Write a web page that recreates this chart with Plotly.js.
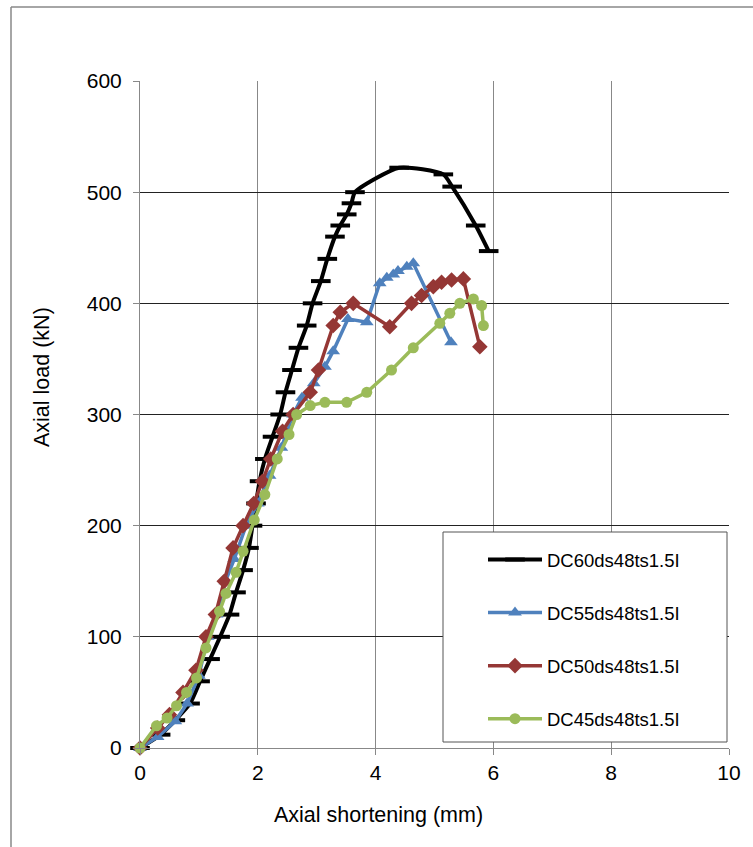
<!DOCTYPE html>
<html><head><meta charset="utf-8">
<script src="https://cdn.plot.ly/plotly-3.0.1.min.js"></script>
<style>html,body{margin:0;padding:0;background:#fff}#chart{width:753px;height:847px}</style>
</head><body><div id="chart"></div>
<script>
const seriesNames = ["DC60ds48ts1.5I","DC55ds48ts1.5I","DC50ds48ts1.5I","DC45ds48ts1.5I"];
const blackX = [0,0.35,0.6,0.85,1.02,1.19,1.36,1.52,1.63,1.75,1.85,1.91,1.97,2.03,2.12,2.25,2.38,2.47,2.58,2.69,2.83,2.93,3.07,3.18,3.31,3.40,3.51,3.59,3.65,4.4,5.15,5.3,5.7,5.92];
const blackY = [0,12,25,40,60,80,100,120,140,160,180,200,220,240,260,280,300,320,340,360,380,400,420,440,460,470,480,490,500,522,516,505,470,447];
const blueX = [0,0.3,0.6,0.8,1.0,1.15,1.3,1.45,1.6,1.8,2.0,2.2,2.4,2.6,2.75,2.95,3.14,3.28,3.53,3.85,4.07,4.19,4.30,4.38,4.53,4.64,5.28];
const blueY = [0,10,24,40,65,100,120,150,170,200,220,245,270,300,315,328,343,357,386,383,418,423,426,429,433,436,365];
const redX = [0,0.3,0.5,0.73,0.95,1.12,1.28,1.43,1.58,1.75,1.93,2.08,2.22,2.42,2.6,2.89,3.03,3.28,3.40,3.62,4.24,4.61,4.78,4.98,5.12,5.29,5.49,5.77];
const redY = [0,18,30,50,70,100,120,150,180,200,220,240,260,285,300,320,340,380,392,400,379,400,407,415,419,421,422,361];
const greenX = [0,0.28,0.46,0.62,0.79,0.96,1.12,1.35,1.46,1.63,1.75,1.94,2.12,2.33,2.53,2.66,2.89,3.14,3.51,3.85,4.27,4.64,5.09,5.26,5.43,5.66,5.80,5.83];
const greenY = [0,20,27,38,50,63,90,123,139,158,177,205,228,260,282,300,308,311,311,320,340,360,382,391,400,404,398,380];
const xTicks = [0,2,4,6,8,10];
const yTicks = [0,100,200,300,400,500,600];
const xTitle = "Axial shortening (mm)";
const yTitle = "Axial load (kN)";

const FONT = "Liberation Sans, Arial, sans-serif";
const traces = [
  {x: blackX, y: blackY, name: seriesNames[0], legendgroup: "a", mode: "lines+markers",
   line: {color: "#000000", width: 4, shape: "spline", smoothing: 0.6},
   marker: {symbol: "line-ew", size: 14, color: "#000", line: {color: "#000", width: 4}}},
  {x: blueX, y: blueY, name: seriesNames[1], legendgroup: "b", mode: "lines+markers",
   line: {color: "#4F81BD", width: 3.5},
   marker: {symbol: "triangle-up", size: 12, color: "#4F81BD"}},
  {x: redX, y: redY, name: seriesNames[2], legendgroup: "c", mode: "lines+markers",
   line: {color: "#953735", width: 3.5},
   marker: {symbol: "diamond", size: 12, color: "#953735"}},
  {x: greenX, y: greenY, name: seriesNames[3], legendgroup: "d", mode: "lines+markers",
   line: {color: "#9BBB59", width: 3.5},
   marker: {symbol: "circle", size: 11, color: "#9BBB59"}}
].map(t => Object.assign(t, {cliponaxis: false}));

const L = 140, R = 729, T = 81, B = 748, W = 753, H = 847;
const px = v => (v - L) / (R - L);
const py = v => (B - v) / (B - T);

const layout = {
  width: W, height: H,
  margin: {l: L, r: W - R, t: T, b: H - B},
  paper_bgcolor: "#fff", plot_bgcolor: "#fff",
  font: {family: FONT, size: 21, color: "#000"},
  showlegend: true,
  legend: {x: px(483), y: py(541), xanchor: "left", yanchor: "top",
    bgcolor: "rgba(0,0,0,0)", borderwidth: 0, tracegroupgap: 26, itemwidth: 54,
    font: {family: FONT, size: 18.5, color: "#000"}},
  xaxis: {range: [0, 10], tickvals: xTicks, ticktext: xTicks.map(String),
    showgrid: true, gridcolor: "#888", gridwidth: 1, zeroline: false,
    showline: true, linecolor: "#888", linewidth: 1, mirror: false,
    ticks: "outside", ticklen: 6, tickcolor: "#888",
    tickfont: {family: FONT, size: 21}, fixedrange: true},
  yaxis: {range: [0, 600], tickvals: yTicks, ticktext: yTicks.map(String),
    showgrid: true, gridcolor: "#222", gridwidth: 1, zeroline: false,
    showline: true, linecolor: "#888", linewidth: 1,
    ticks: "outside", ticklen: 6, tickcolor: "#888", ticklabelstandoff: 7,
    tickfont: {family: FONT, size: 21}, fixedrange: true},
  annotations: [
    {text: xTitle, xref: "paper", yref: "paper", x: px(378), y: py(815), xanchor: "center", yanchor: "middle",
     showarrow: false, font: {family: FONT, size: 21.5, color: "#000"}},
    {text: yTitle, xref: "paper", yref: "paper", x: px(42), y: py(377), xanchor: "center", yanchor: "middle",
     textangle: -90, showarrow: false, font: {family: FONT, size: 21.5, color: "#000"}}
  ],
  shapes: [
    {type: "line", xref: "paper", yref: "paper", x0: px(11), x1: px(11), y0: py(7), y1: py(H + 5), line: {color: "#888", width: 1.5}},
    {type: "line", xref: "paper", yref: "paper", x0: px(11), x1: px(W + 5), y0: py(7), y1: py(7), line: {color: "#888", width: 1.5}},
    {type: "rect", xref: "paper", yref: "paper", x0: px(443), x1: px(727), y0: py(532), y1: py(742),
     line: {color: "#555", width: 1}, fillcolor: "#fff", layer: "above"}
  ]
};
Plotly.newPlot("chart", traces, layout, {staticPlot: true, displayModeBar: false});
</script></body></html>
